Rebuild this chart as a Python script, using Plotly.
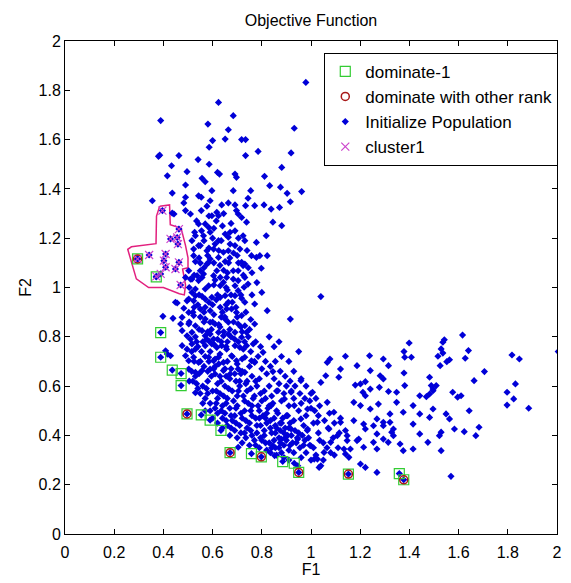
import plotly.graph_objects as go

# ---------------- data ----------------
tick_vals = [0, 0.2, 0.4, 0.6, 0.8, 1.0, 1.2, 1.4, 1.6, 1.8, 2.0]
tick_text = ["0", "0.2", "0.4", "0.6", "0.8", "1", "1.2", "1.4", "1.6", "1.8", "2"]

# dominate-1 (green squares)
dom1_x = [0.295, 0.371, 0.389, 0.389, 0.436, 0.472, 0.472, 0.496, 0.554, 0.590,
          0.634, 0.671, 0.758, 0.798, 0.885, 0.932, 0.950, 1.152, 1.359, 1.377]
dom1_y = [1.116, 1.043, 0.817, 0.717, 0.665, 0.651, 0.602, 0.487, 0.483, 0.462,
          0.420, 0.330, 0.326, 0.313, 0.294, 0.287, 0.250, 0.243, 0.245, 0.220]

# dominate with other rank (red circles)
rank_x = [0.295, 0.496, 0.671, 0.798, 0.950, 1.152, 1.377]
rank_y = [1.116, 0.487, 0.330, 0.313, 0.250, 0.243, 0.220]

# cluster1 (magenta x)
clu_x = [0.396, 0.463, 0.429, 0.456, 0.459, 0.342, 0.409, 0.402, 0.463, 0.409,
         0.449, 0.389, 0.371, 0.295, 0.470]
clu_y = [1.312, 1.237, 1.197, 1.203, 1.176, 1.132, 1.136, 1.109, 1.102, 1.082,
         1.075, 1.055, 1.045, 1.116, 1.010]

# cluster outline
poly_x = [0.385, 0.425, 0.428, 0.472, 0.490, 0.500, 0.500, 0.478, 0.490, 0.485,
          0.465, 0.400, 0.340, 0.290, 0.255, 0.270, 0.370, 0.372, 0.385]
poly_y = [1.330, 1.335, 1.255, 1.240, 1.170, 1.120, 1.080, 1.075, 1.010, 0.970,
          0.975, 1.000, 1.000, 1.035, 1.155, 1.165, 1.178, 1.290, 1.330]

# Initialize Population, upper part
top_x = [0.979, 0.624, 0.389, 0.684, 0.581, 0.664, 0.932, 0.600, 0.651, 0.718,
         0.734, 0.586, 0.785, 0.734, 0.919, 0.380, 0.385, 0.463, 0.541, 0.433,
         0.586, 0.881, 0.496, 0.620, 0.628, 0.691, 0.697, 0.416, 0.811, 0.557,
         0.570, 0.490, 0.832, 0.876, 0.597, 0.684, 0.755, 0.962, 0.436, 0.903,
         0.543, 0.554, 0.490, 0.744, 0.355, 0.590, 0.483, 0.916, 0.664, 0.637,
         0.691, 0.734, 0.771, 0.809, 0.577, 0.838, 0.872, 0.490, 0.554, 0.436,
         0.617, 0.624, 0.597, 0.704, 0.718, 0.697, 0.443, 0.510]
top_y = [1.832, 1.751, 1.677, 1.697, 1.663, 1.640, 1.646, 1.596, 1.602, 1.600,
         1.600, 1.569, 1.552, 1.535, 1.546, 1.532, 1.537, 1.535, 1.519, 1.494,
         1.500, 1.487, 1.470, 1.467, 1.460, 1.460, 1.447, 1.453, 1.451, 1.443,
         1.429, 1.416, 1.413, 1.407, 1.393, 1.393, 1.393, 1.389, 1.383, 1.382,
         1.372, 1.366, 1.366, 1.362, 1.352, 1.352, 1.343, 1.348, 1.343, 1.335,
         1.335, 1.332, 1.332, 1.335, 1.330, 1.318, 1.325, 1.312, 1.312, 1.302,
         1.305, 1.291, 1.291, 1.298, 1.284, 1.312, 1.298, 1.298]

# Initialize Population, middle band
mid_x = [0.738, 0.845, 0.881, 0.570, 0.584, 0.590, 0.563, 0.527, 0.516, 0.651,
         0.671, 0.691, 0.664, 0.724, 0.731, 0.818, 0.610, 0.624, 0.671, 0.691,
         0.778, 0.711, 0.523, 0.577, 0.604, 0.644, 0.664, 0.758, 0.778, 0.792,
         0.822, 0.624, 0.530, 0.550, 0.590, 0.577, 0.651, 0.718, 0.731, 0.724,
         0.798, 0.503, 0.550, 0.537, 0.557, 0.543, 0.563, 0.617, 0.604, 0.631,
         0.684, 0.704, 0.490, 0.516, 0.657, 0.684, 0.704, 0.731, 0.744, 0.728,
         0.644, 0.631, 0.584, 0.570, 0.691, 0.704, 0.516, 0.530, 0.503, 0.523,
         0.557, 0.570, 0.597, 0.631, 0.651, 0.664, 0.691, 0.718, 0.731, 0.771,
         0.822, 0.456, 0.496, 0.483, 0.503, 0.523, 0.550, 0.570, 0.590, 0.631,
         0.657, 0.677, 0.697, 0.718, 0.398, 0.439, 0.476, 1.040, 0.916, 0.543,
         0.530, 0.543, 0.523, 0.584, 0.510, 0.530, 0.449]
mid_y = [1.265, 1.265, 1.251, 1.258, 1.244, 1.224, 1.210, 1.224, 1.190, 1.217,
         1.224, 1.230, 1.204, 1.210, 1.190, 1.210, 1.176, 1.190, 1.176, 1.170,
         1.183, 1.156, 1.156, 1.149, 1.156, 1.143, 1.149, 1.129, 1.122, 1.129,
         1.129, 1.122, 1.105, 1.099, 1.116, 1.095, 1.105, 1.102, 1.095, 1.089,
         1.078, 1.068, 1.068, 1.048, 1.041, 1.028, 1.055, 1.068, 1.048, 1.041,
         1.068, 1.068, 1.041, 1.034, 1.041, 1.034, 1.028, 1.041, 1.014, 1.001,
         1.021, 1.007, 1.007, 0.994, 1.007, 0.987, 0.980, 0.967, 0.953, 0.946,
         0.964, 0.953, 0.960, 0.960, 0.967, 0.940, 0.967, 0.956, 0.940, 0.933,
         0.906, 0.937, 0.946, 0.916, 0.899, 0.886, 0.913, 0.920, 0.906, 0.920,
         0.913, 0.913, 0.899, 0.886, 0.883, 0.875, 0.879, 0.963, 0.872, 1.258,
         1.210, 1.170, 1.129, 1.102, 1.034, 0.994, 0.940]

# Initialize Population, lower band
low_x = [0.470, 0.503, 0.530, 0.570, 0.590, 0.610, 0.651, 0.664, 0.704, 0.731,
         0.771, 0.476, 0.496, 0.516, 0.557, 0.570, 0.590, 0.584, 0.604, 0.624,
         0.644, 0.664, 0.691, 0.718, 0.738, 0.476, 0.496, 0.516, 0.530, 0.570,
         0.597, 0.617, 0.637, 0.657, 0.691, 0.711, 0.738, 0.765, 0.805, 0.416,
         0.429, 0.490, 0.503, 0.523, 0.543, 0.584, 0.604, 0.624, 0.644, 0.677,
         0.697, 0.731, 0.758, 0.771, 1.077, 0.503, 0.530, 0.557, 0.590, 0.610,
         0.644, 0.671, 0.704, 0.731, 0.845, 1.060, 0.409, 0.530]
low_y = [0.852, 0.852, 0.845, 0.872, 0.859, 0.852, 0.872, 0.859, 0.852, 0.845,
         0.852, 0.825, 0.804, 0.818, 0.825, 0.804, 0.811, 0.784, 0.791, 0.818,
         0.804, 0.811, 0.818, 0.798, 0.818, 0.764, 0.750, 0.771, 0.750, 0.764,
         0.771, 0.757, 0.764, 0.750, 0.764, 0.757, 0.764, 0.771, 0.737, 0.730,
         0.723, 0.723, 0.703, 0.717, 0.696, 0.717, 0.703, 0.717, 0.696, 0.723,
         0.703, 0.717, 0.703, 0.696, 0.710, 0.669, 0.656, 0.663, 0.669, 0.649,
         0.663, 0.649, 0.669, 0.656, 0.659, 0.642, 0.743, 0.573]

# Initialize Population, dense core
core_x = [0.56, 0.58, 0.60, 0.62, 0.63, 0.65, 0.66, 0.68, 0.70, 0.71,
          0.73, 0.74, 0.76, 0.77, 0.79, 0.80, 0.82, 0.83, 0.85, 0.86,
          0.88, 0.90, 0.91, 0.93, 0.95, 0.97, 0.57, 0.59, 0.61, 0.62,
          0.64, 0.65, 0.67, 0.69, 0.70, 0.72, 0.73, 0.75, 0.76, 0.78,
          0.79, 0.81, 0.82, 0.84, 0.86, 0.87, 0.89, 0.90, 0.92, 0.94,
          0.60, 0.62, 0.64, 0.66, 0.68, 0.69, 0.71, 0.73, 0.74, 0.76,
          0.78, 0.80, 0.81, 0.83, 0.85, 0.87, 0.89, 0.91, 0.64, 0.67,
          0.70, 0.72, 0.75, 0.77, 0.79, 0.82, 0.84, 0.86, 0.88, 0.58,
          0.61, 0.63, 0.65, 0.67, 0.69, 0.71, 0.72, 0.74, 0.76, 0.78,
          0.79, 0.81, 0.83, 0.84, 0.86, 0.88, 0.89, 0.91, 0.93, 0.95,
          0.96, 0.98, 1.00, 1.01, 1.03, 0.55, 0.57, 0.59, 0.61, 0.63,
          0.66, 0.68, 0.70, 0.72, 0.75, 0.77, 0.80, 0.82, 0.85, 0.87,
          0.90, 0.92, 0.97, 0.99, 1.01, 1.03, 1.05, 1.07, 1.09, 1.11,
          1.12, 1.14, 0.96, 0.98, 1.00, 1.02, 1.05, 1.08, 0.93, 0.91,
          0.89, 0.52, 0.54, 0.53, 0.55, 0.56, 0.57, 0.58, 0.62, 0.59,
          0.56, 0.58, 0.60, 0.62, 0.63, 0.65, 0.66, 0.67, 0.69, 0.70,
          0.72, 0.73, 0.75, 0.60, 0.62, 0.64, 0.66, 0.68, 0.55, 0.53,
          0.54, 0.51, 0.52, 0.54, 0.61, 0.66, 0.63, 0.58, 0.60, 0.64,
          0.55, 0.67, 0.70, 0.74, 0.76, 0.78, 0.80, 0.76, 0.83, 0.85,
          0.88, 0.91, 0.93, 0.96, 0.98, 1.00, 1.02, 0.95, 0.87]
core_y = [0.60, 0.62, 0.58, 0.61, 0.57, 0.60, 0.55, 0.58, 0.56, 0.60,
          0.54, 0.58, 0.52, 0.56, 0.50, 0.54, 0.49, 0.52, 0.47, 0.50,
          0.45, 0.48, 0.43, 0.46, 0.41, 0.44, 0.55, 0.53, 0.51, 0.55,
          0.52, 0.49, 0.51, 0.48, 0.52, 0.47, 0.50, 0.45, 0.48, 0.44,
          0.47, 0.42, 0.45, 0.41, 0.43, 0.39, 0.41, 0.38, 0.40, 0.37,
          0.47, 0.45, 0.47, 0.44, 0.46, 0.42, 0.44, 0.41, 0.43, 0.40,
          0.41, 0.38, 0.40, 0.37, 0.38, 0.35, 0.36, 0.34, 0.43, 0.40,
          0.39, 0.37, 0.36, 0.38, 0.35, 0.34, 0.35, 0.32, 0.33, 0.66,
          0.68, 0.64, 0.67, 0.63, 0.65, 0.62, 0.66, 0.62, 0.64, 0.60,
          0.63, 0.58, 0.60, 0.56, 0.58, 0.54, 0.57, 0.52, 0.55, 0.50,
          0.53, 0.48, 0.51, 0.45, 0.48, 0.70, 0.72, 0.74, 0.71, 0.73,
          0.70, 0.72, 0.69, 0.71, 0.68, 0.70, 0.67, 0.65, 0.63, 0.61,
          0.60, 0.58, 0.36, 0.39, 0.35, 0.41, 0.37, 0.43, 0.39, 0.35,
          0.47, 0.42, 0.31, 0.33, 0.30, 0.32, 0.30, 0.33, 0.33, 0.30,
          0.31, 0.62, 0.59, 0.64, 0.57, 0.53, 0.50, 0.57, 0.49, 0.50,
          0.78, 0.82, 0.86, 0.79, 0.84, 0.88, 0.78, 0.83, 0.79, 0.88,
          0.82, 0.78, 0.83, 0.93, 0.97, 0.90, 0.99, 0.94, 0.88, 0.80,
          0.76, 0.79, 0.90, 0.93, 1.03, 1.06, 1.09, 1.13, 1.20, 1.25,
          1.17, 1.12, 1.13, 1.15, 1.06, 1.02, 0.98, 0.97, 0.80, 0.76,
          0.72, 0.70, 0.66, 0.63, 0.60, 0.57, 0.55, 0.74, 0.78]

# Initialize Population, extra points filling the dense arc
core2_x = [0.505, 0.515, 0.525, 0.535, 0.545, 0.555, 0.565, 0.575, 0.585, 0.595,
           0.605, 0.615, 0.625, 0.635, 0.645, 0.655, 0.665, 0.675, 0.685, 0.695,
           0.705, 0.715, 0.725, 0.735, 0.745, 0.755, 0.765, 0.775, 0.785, 0.795,
           0.805, 0.815, 0.825, 0.835, 0.845, 0.855, 0.865, 0.875, 0.885, 0.895,
           0.905, 0.915, 0.925, 0.935, 0.945, 0.955, 0.965, 0.975, 0.985, 0.995,
           0.615, 0.635, 0.655, 0.675, 0.695, 0.715, 0.735, 0.755, 0.775, 0.795,
           0.815, 0.835, 0.855, 0.875, 0.655, 0.675, 0.695, 0.715, 0.735, 0.755,
           0.775, 0.795, 0.815, 0.835, 0.855, 0.875, 0.895, 0.915,
           0.515, 0.535, 0.545, 0.565, 0.575, 0.595, 0.605, 0.625, 0.635, 0.645,
           0.655, 0.675, 0.685, 0.705, 0.715, 0.725, 0.745, 0.755, 0.775, 0.785,
           0.795, 0.815, 0.835, 0.855, 0.875, 0.895, 0.915, 0.935, 0.955, 0.975,
           0.995, 1.015, 1.035, 1.055, 1.075, 1.095, 1.115, 1.035, 1.065, 1.095,
           0.505, 0.525, 0.545, 0.565, 0.585, 0.605, 0.615, 0.635, 0.655, 0.675,
           0.695, 0.715, 0.735, 0.755,
           0.505, 0.525, 0.545, 0.565, 0.585, 0.605, 0.625, 0.645, 0.665, 0.685,
           0.705, 0.725, 0.745, 0.655, 0.605, 0.565, 0.605, 0.635, 0.675, 0.705,
           0.535, 0.555, 0.615, 0.645, 0.585]
core2_y = [0.62, 0.66, 0.70, 0.61, 0.65, 0.74, 0.68, 0.59, 0.70, 0.64,
           0.67, 0.58, 0.69, 0.62, 0.56, 0.64, 0.59, 0.67, 0.54, 0.62,
           0.58, 0.65, 0.56, 0.61, 0.53, 0.59, 0.55, 0.62, 0.52, 0.57,
           0.48, 0.55, 0.51, 0.46, 0.53, 0.44, 0.49, 0.42, 0.47, 0.43,
           0.40, 0.45, 0.37, 0.42, 0.39, 0.35, 0.40, 0.38, 0.42, 0.36,
           0.53, 0.50, 0.46, 0.43, 0.45, 0.41, 0.39, 0.42, 0.36, 0.39,
           0.37, 0.33, 0.35, 0.37, 0.53, 0.48, 0.51, 0.49, 0.46, 0.50,
           0.47, 0.44, 0.47, 0.43, 0.41, 0.45, 0.39, 0.36,
           0.74, 0.78, 0.83, 0.86, 0.79, 0.83, 0.77, 0.85, 0.78, 0.82,
           0.76, 0.80, 0.86, 0.78, 0.84, 0.75, 0.80, 0.74, 0.78, 0.72,
           0.76, 0.70, 0.68, 0.70, 0.66, 0.64, 0.62, 0.60, 0.57, 0.55,
           0.54, 0.50, 0.52, 0.46, 0.49, 0.45, 0.41, 0.38, 0.35, 0.32,
           0.86, 0.92, 0.97, 0.90, 0.94, 0.89, 0.95, 0.88, 0.93, 0.97,
           0.92, 0.97, 0.90, 0.87,
           1.00, 1.05, 1.12, 1.08, 1.16, 1.10, 1.15, 1.07, 1.10, 1.14,
           1.10, 1.05, 1.08, 1.00, 1.01, 1.19, 1.24, 1.19, 1.26, 1.20,
           1.27, 1.23, 1.27, 1.30, 1.29]

# Initialize Population, right tail
tail_x = [1.066, 1.120, 1.187, 1.241, 1.315, 1.294, 1.201, 1.241, 1.174, 1.201,
          1.241, 1.274, 1.321, 1.174, 1.214, 1.254, 1.294, 1.335, 1.147, 1.187,
          1.254, 1.294, 1.335, 1.160, 1.214, 1.268, 0.959, 1.006, 1.040, 1.066,
          1.093, 1.120, 1.107, 1.080, 1.053, 0.999, 0.946, 0.919, 0.986, 1.026,
          0.959, 0.905, 0.932, 0.986, 0.892, 0.865, 0.919, 0.838, 0.879, 0.845,
          1.013, 1.073, 1.134, 1.033, 0.704, 0.852, 0.946, 1.154, 1.201, 1.221,
          1.268, 1.180, 1.221, 1.348, 1.381, 1.442, 1.482, 1.496, 1.509, 1.576,
          1.596, 1.610, 1.663, 1.831, 1.797, 1.824, 1.797, 1.885, 1.643, 1.683,
          1.670, 1.623, 1.583, 1.529, 1.522, 1.475, 1.415, 1.529, 1.442, 1.415,
          1.362, 1.375, 1.314, 1.328, 1.321, 1.268, 1.221, 1.194, 1.147, 1.140,
          1.026, 1.040, 1.569, 1.268, 1.294, 1.415, 1.442, 1.496, 1.482, 1.549,
          1.563, 1.375, 1.348, 1.140, 1.113, 1.238, 1.294, 1.281, 1.211, 1.221,
          1.278, 1.315, 1.399, 1.378, 1.381, 1.408, 1.378, 1.482, 1.542, 1.536,
          1.529, 1.536, 1.516, 1.525, 1.563, 1.552, 1.616, 1.627, 1.640, 1.489,
          1.496, 1.705, 1.817, 1.847, 2.005, 1.469]
tail_y = [0.696, 0.669, 0.683, 0.663, 0.683, 0.629, 0.609, 0.588, 0.534, 0.521,
          0.507, 0.527, 0.487, 0.460, 0.446, 0.439, 0.453, 0.426, 0.399, 0.379,
          0.372, 0.385, 0.399, 0.345, 0.352, 0.345, 0.622, 0.575, 0.615, 0.534,
          0.494, 0.453, 0.399, 0.372, 0.331, 0.358, 0.385, 0.426, 0.426, 0.453,
          0.467, 0.480, 0.521, 0.507, 0.548, 0.581, 0.575, 0.521, 0.385, 0.358,
          0.304, 0.426, 0.345, 0.270, 0.352, 0.318, 0.277, 0.311, 0.284, 0.270,
          0.250, 0.604, 0.618, 0.575, 0.602, 0.561, 0.568, 0.588, 0.602, 0.575,
          0.555, 0.561, 0.622, 0.609, 0.575, 0.548, 0.523, 0.510, 0.500, 0.433,
          0.399, 0.415, 0.426, 0.413, 0.399, 0.372, 0.345, 0.338, 0.406, 0.446,
          0.365, 0.338, 0.372, 0.413, 0.453, 0.406, 0.426, 0.385, 0.379, 0.325,
          0.304, 0.277, 0.234, 0.467, 0.439, 0.521, 0.487, 0.507, 0.473, 0.487,
          0.467, 0.494, 0.534, 0.721, 0.636, 0.723, 0.710, 0.642, 0.575, 0.561,
          0.595, 0.578, 0.775, 0.740, 0.717, 0.717, 0.653, 0.636, 0.788, 0.778,
          0.751, 0.734, 0.721, 0.683, 0.707, 0.699, 0.807, 0.713, 0.744, 0.602,
          0.581, 0.659, 0.726, 0.710, 0.740, 0.557]

# ---------------- figure ----------------
FONT = "Liberation Sans, Arial, sans-serif"

pop_x = dom1_x + clu_x + top_x + mid_x + low_x + core_x + core2_x + tail_x
pop_y = dom1_y + clu_y + top_y + mid_y + low_y + core_y + core2_y + tail_y

fig = go.Figure()

fig.add_trace(go.Scatter(
    x=poly_x, y=poly_y, mode="lines", showlegend=False, hoverinfo="skip",
    line=dict(color="#e2207e", width=1.5)))

fig.add_trace(go.Scatter(
    x=pop_x, y=pop_y, mode="markers", name="Initialize Population", legendrank=3,
    marker=dict(symbol="diamond", size=5.5, color="#0000d8", line=dict(width=0))))

fig.add_trace(go.Scatter(
    x=dom1_x, y=dom1_y, mode="markers", name="dominate-1", legendrank=1,
    marker=dict(symbol="square-open", size=10, color="#33cc33", line=dict(width=1.2))))

fig.add_trace(go.Scatter(
    x=rank_x, y=rank_y, mode="markers", name="dominate with other rank", legendrank=2,
    marker=dict(symbol="circle-open", size=8, color="#a81818", line=dict(width=1.5))))

fig.add_trace(go.Scatter(
    x=clu_x, y=clu_y, mode="markers", name="cluster1", legendrank=4,
    marker=dict(symbol="x-thin-open", size=8, color="#cc44cc", line=dict(width=1.2))))

axis_common = dict(
    range=[0, 2], tickvals=tick_vals, ticktext=tick_text,
    ticks="inside", ticklen=5, tickwidth=1, tickcolor="black",
    showline=True, linecolor="black", linewidth=1, mirror="ticks",
    showgrid=False, zeroline=False,
    tickfont=dict(family=FONT, size=16, color="black"),
)

fig.update_layout(
    width=571, height=583,
    margin=dict(l=65, r=9, t=41, b=47),
    paper_bgcolor="white", plot_bgcolor="white",
    font=dict(family=FONT, size=16, color="black"),
    title=dict(text="Objective Function", x=0.5, xref="paper", xanchor="center",
               y=1 - 20 / 583, yref="container", yanchor="middle",
               font=dict(family=FONT, size=16, color="black")),
    showlegend=True,
    legend=dict(x=0.527, y=0.976, xanchor="left", yanchor="top",
                bgcolor="white", bordercolor="black", borderwidth=1,
                font=dict(family=FONT, size=17, color="black"),
                itemsizing="trace"),
)
fig.update_xaxes(**axis_common, ticklabelstandoff=4,
                 title=dict(text="F1", standoff=2,
                            font=dict(family=FONT, size=16, color="black")))
fig.update_yaxes(**axis_common, title=dict(text="F2", standoff=2,
                 font=dict(family=FONT, size=16, color="black")))

fig.write_html("out.html")
